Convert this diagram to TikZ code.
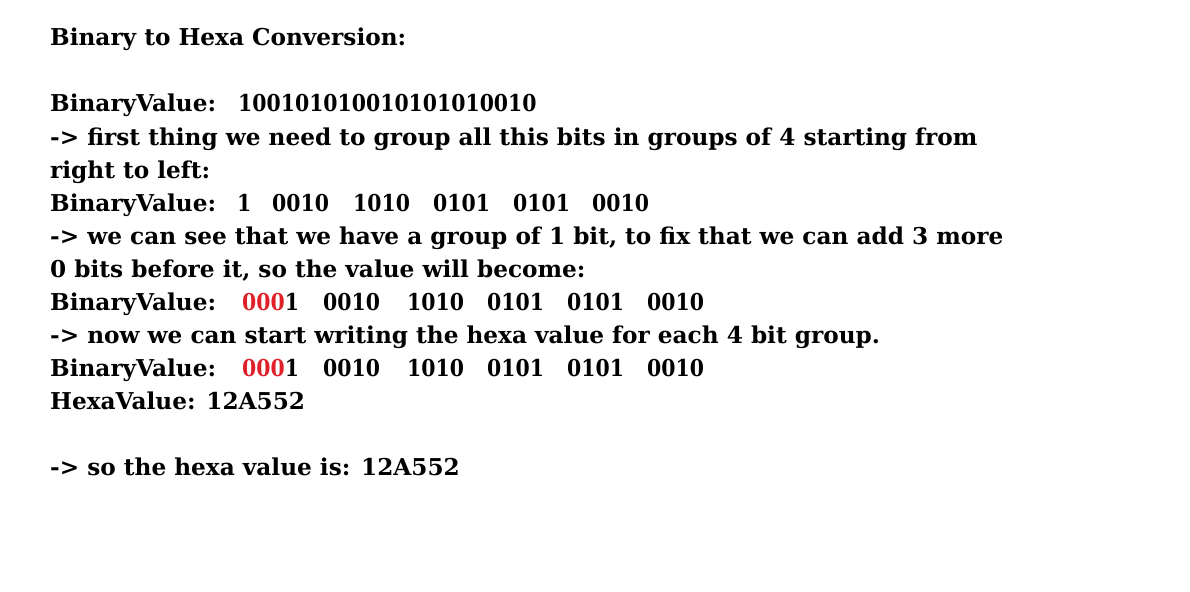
\documentclass[tikz,border=0pt]{standalone}
\usepackage{fontspec}
\newfontfamily\notefont{DejaVu Serif}
\newfontfamily\bitfont[FakeStretch=0.88]{DejaVu Serif}
\definecolor{bitred}{RGB}{224,32,40}

\begin{document}
\begin{tikzpicture}[x=1pt,y=-1pt,
  noteline/.style={
    anchor=base west,
    inner sep=0pt,
    font=\notefont\bfseries\fontsize{23.2}{28}\selectfont % every line of the note
  },
  bitgroup/.style={noteline, font=\bitfont\bfseries\fontsize{23.2}{28}\selectfont}
]
\useasboundingbox (0,0) rectangle (1190,591);

\node (title) [noteline] at (50,46)  {Binary to Hexa Conversion:};

\node (bin)   [noteline] at (50,112) {BinaryValue:};
\node (bits)  [bitgroup] at (238,112) {100101010010101010010};
\node (step1) [noteline] at (50,145) {-> first thing we need to group all this bits in groups of 4 starting from};
\node (step1b)[noteline] at (50,178) {right to left:};

% grouped value
\node (binA)  [noteline] at (50,211) {BinaryValue:};
\foreach \bits/\x [count=\i] in {1/237,0010/272,1010/353,0101/433,0101/513,0010/592}
  \node (a\i) [bitgroup] at (\x,211) {\bits};

\node (step2) [noteline] at (50,244) {-> we can see that we have a group of 1 bit, to fix that we can add 3 more};
\node (step2b)[noteline] at (50,277) {0 bits before it, so the value will become:};

% padded value
\node (binB)  [noteline] at (50,310) {BinaryValue:};
\node (b1)    [bitgroup] at (242,310) {\textcolor{bitred}{000}1};
\foreach \bits/\x [count=\i from 2] in {0010/323,1010/407,0101/487,0101/567,0010/647}
  \node (b\i) [bitgroup] at (\x,310) {\bits};

\node (step3) [noteline] at (50,343) {-> now we can start writing the hexa value for each 4 bit group.};

% padded value again, with the hexa value under it
\node (binC)  [noteline] at (50,376) {BinaryValue:};
\node (c1)    [bitgroup] at (242,376) {\textcolor{bitred}{000}1};
\foreach \bits/\x [count=\i from 2] in {0010/323,1010/407,0101/487,0101/567,0010/647}
  \node (c\i) [bitgroup] at (\x,376) {\bits};
\node (hex)   [noteline] at (50,409) {HexaValue: 12A552};

\node (result)[noteline] at (50,475) {-> so the hexa value is: 12A552};
\end{tikzpicture}
\end{document}
